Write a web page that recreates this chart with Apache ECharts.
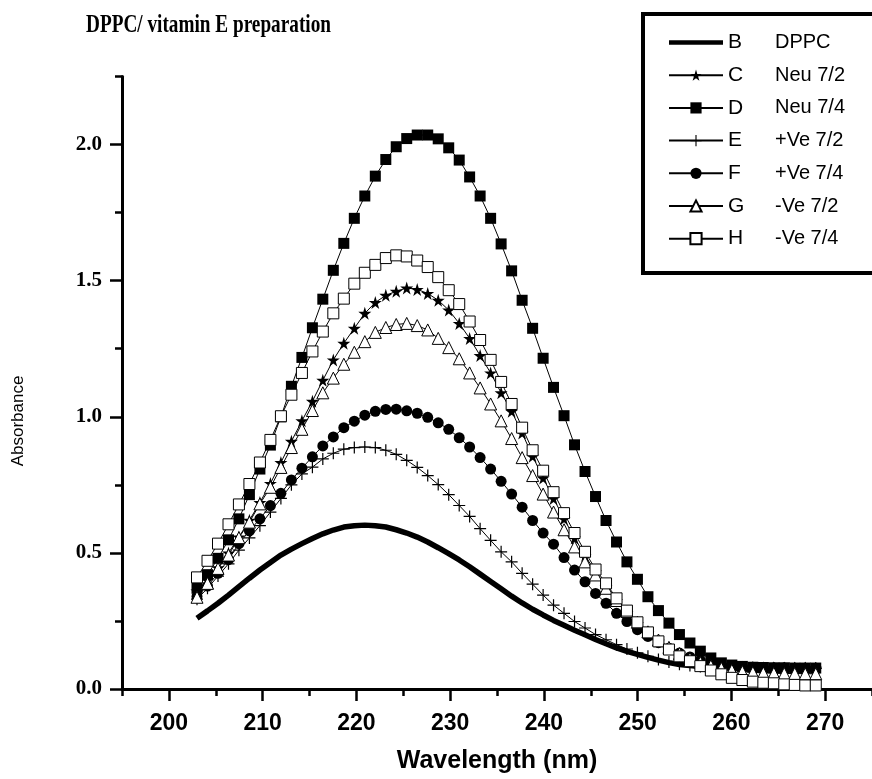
<!DOCTYPE html>
<html lang="en">
<head>
<meta charset="UTF-8">
<title>DPPC/ vitamin E preparation</title>
<script src="https://cdn.jsdelivr.net/npm/echarts@6.0.0/dist/echarts.min.js"></script>
<style>html,body{margin:0;padding:0;background:#fff;}</style>
</head>
<body>
<div id="chart" style="width:872px;height:779px;"></div>
<script>
// wavelength (nm) of each sample point
var wavelength = [203.00, 204.12, 205.24, 206.36, 207.47, 208.59, 209.71, 210.83, 211.95, 213.07,
    214.19, 215.31, 216.42, 217.54, 218.66, 219.78, 220.90, 222.02, 223.14, 224.25,
    225.37, 226.49, 227.61, 228.73, 229.85, 230.97, 232.08, 233.20, 234.32, 235.44,
    236.56, 237.68, 238.80, 239.92, 241.03, 242.15, 243.27, 244.39, 245.51, 246.63,
    247.75, 248.86, 249.98, 251.10, 252.22, 253.34, 254.46, 255.58, 256.69, 257.81,
    258.93, 260.05, 261.17, 262.29, 263.41, 264.53, 265.64, 266.76, 267.88, 269.00];

var absB = [0.260, 0.287, 0.315, 0.345, 0.376, 0.407, 0.437, 0.465, 0.492, 0.514,
    0.534, 0.553, 0.570, 0.584, 0.595, 0.600, 0.602, 0.600, 0.595, 0.585,
    0.573, 0.558, 0.540, 0.519, 0.497, 0.474, 0.449, 0.422, 0.395, 0.368,
    0.341, 0.316, 0.293, 0.272, 0.252, 0.234, 0.216, 0.199, 0.182, 0.166,
    0.151, 0.138, 0.127, 0.116, 0.106, 0.097, 0.090, 0.086, 0.083, 0.080,
    0.078, 0.077, 0.076, 0.075, 0.074, 0.074, 0.073, 0.073, 0.072, 0.072];

var absC = [0.360, 0.400, 0.445, 0.500, 0.558, 0.620, 0.685, 0.755, 0.832, 0.910,
    0.985, 1.057, 1.134, 1.209, 1.270, 1.325, 1.380, 1.420, 1.446, 1.461,
    1.473, 1.468, 1.453, 1.428, 1.392, 1.343, 1.288, 1.225, 1.161, 1.088,
    1.020, 0.940, 0.855, 0.775, 0.700, 0.625, 0.555, 0.490, 0.430, 0.375,
    0.325, 0.280, 0.240, 0.205, 0.175, 0.150, 0.130, 0.115, 0.102, 0.093,
    0.087, 0.083, 0.080, 0.079, 0.078, 0.078, 0.077, 0.077, 0.077, 0.076];

var absD = [0.370, 0.420, 0.480, 0.548, 0.625, 0.714, 0.808, 0.896, 1.000, 1.112,
    1.218, 1.327, 1.432, 1.538, 1.637, 1.729, 1.811, 1.884, 1.945, 1.992,
    2.022, 2.035, 2.035, 2.021, 1.988, 1.943, 1.881, 1.811, 1.729, 1.635,
    1.536, 1.428, 1.325, 1.215, 1.108, 1.004, 0.897, 0.799, 0.707, 0.619,
    0.540, 0.467, 0.403, 0.339, 0.288, 0.242, 0.200, 0.169, 0.139, 0.114,
    0.096, 0.088, 0.083, 0.080, 0.079, 0.078, 0.078, 0.077, 0.077, 0.077];

var absE = [0.330, 0.370, 0.415, 0.460, 0.510, 0.555, 0.600, 0.650, 0.700, 0.750,
    0.790, 0.815, 0.845, 0.866, 0.881, 0.887, 0.889, 0.887, 0.877, 0.862,
    0.840, 0.814, 0.784, 0.751, 0.714, 0.674, 0.634, 0.589, 0.546, 0.504,
    0.467, 0.425, 0.385, 0.345, 0.308, 0.278, 0.248, 0.224, 0.200, 0.181,
    0.163, 0.147, 0.133, 0.120, 0.108, 0.099, 0.091, 0.086, 0.083, 0.081,
    0.080, 0.079, 0.078, 0.078, 0.077, 0.077, 0.077, 0.076, 0.076, 0.076];

var absF = [0.340, 0.378, 0.425, 0.475, 0.534, 0.581, 0.625, 0.674, 0.719, 0.768,
    0.811, 0.853, 0.893, 0.926, 0.960, 0.984, 1.006, 1.020, 1.027, 1.028,
    1.022, 1.013, 0.998, 0.978, 0.954, 0.923, 0.889, 0.850, 0.808, 0.763,
    0.716, 0.668, 0.619, 0.573, 0.532, 0.483, 0.437, 0.394, 0.351, 0.315,
    0.278, 0.248, 0.218, 0.193, 0.170, 0.150, 0.132, 0.118, 0.105, 0.095,
    0.088, 0.084, 0.081, 0.079, 0.078, 0.077, 0.077, 0.076, 0.076, 0.076];

var absG = [0.337, 0.388, 0.443, 0.492, 0.556, 0.613, 0.680, 0.741, 0.814, 0.887,
    0.954, 1.023, 1.088, 1.142, 1.193, 1.237, 1.276, 1.310, 1.328, 1.339,
    1.343, 1.335, 1.319, 1.288, 1.254, 1.213, 1.161, 1.106, 1.047, 0.985,
    0.920, 0.850, 0.784, 0.716, 0.650, 0.585, 0.522, 0.467, 0.419, 0.370,
    0.325, 0.285, 0.245, 0.210, 0.180, 0.153, 0.130, 0.112, 0.097, 0.085,
    0.076, 0.069, 0.064, 0.061, 0.059, 0.058, 0.057, 0.057, 0.056, 0.056];

var absH = [0.410, 0.471, 0.534, 0.605, 0.678, 0.753, 0.832, 0.915, 1.002, 1.081,
    1.161, 1.240, 1.313, 1.380, 1.434, 1.489, 1.529, 1.558, 1.583, 1.593,
    1.589, 1.574, 1.550, 1.513, 1.465, 1.414, 1.350, 1.282, 1.209, 1.128,
    1.047, 0.960, 0.877, 0.802, 0.723, 0.646, 0.573, 0.504, 0.439, 0.388,
    0.333, 0.288, 0.245, 0.208, 0.175, 0.145, 0.120, 0.102, 0.084, 0.068,
    0.054, 0.041, 0.033, 0.027, 0.023, 0.021, 0.017, 0.015, 0.013, 0.013];

var seriesNames = ['B', 'C', 'D', 'E', 'F', 'G', 'H'];
var seriesLabels = ['DPPC', 'Neu 7/2', 'Neu 7/4', '+Ve 7/2', '+Ve 7/4', '-Ve 7/2', '-Ve 7/4'];

var xMajorTicks = [200, 210, 220, 230, 240, 250, 260, 270];
var xMinorTicks = [195, 205, 215, 225, 235, 245, 255, 265, 275];
var yMajorTicks = [0, 0.5, 1.0, 1.5, 2.0];
var yMinorTicks = [0.25, 0.75, 1.25, 1.75, 2.25];

var starPath = 'path://M50,0 L61,35 L98,35 L68,57 L79,91 L50,70 L21,91 L32,57 L2,35 L39,35 Z';
var plusPath = 'path://M45,0 L55,0 L55,45 L100,45 L100,55 L55,55 L55,100 L45,100 L45,55 L0,55 L0,45 L45,45 Z';

function pares(valores) {
    return wavelength.map(function (w, i) { return [w, valores[i]]; });
}

function serie(nome, valores, simbolo, tamanho, aberto) {
    return {
        name: nome,
        type: 'line',
        data: pares(valores),
        symbol: simbolo,
        symbolSize: tamanho,
        showSymbol: true,
        lineStyle: { color: '#000', width: 1 },
        itemStyle: aberto
            ? { color: '#fff', borderColor: '#000', borderWidth: 1 }
            : { color: '#000' },
        emphasis: { disabled: true }
    };
}

var series = [
    {
        name: 'B',
        type: 'line',
        data: pares(absB),
        symbol: 'none',
        lineStyle: { color: '#000', width: 5.5 },
        itemStyle: { color: '#000' },
        emphasis: { disabled: true }
    },
    serie('C', absC, starPath, 13, false),
    serie('D', absD, 'rect', 11, false),
    serie('E', absE, plusPath, 12, false),
    serie('F', absF, 'circle', 11, false),
    serie('G', absG, 'triangle', 12, true),
    serie('H', absH, 'rect', 11, true)
];

var fonteSans = '"Liberation Sans", Arial, sans-serif';
var fonteSerif = '"Liberation Serif", "Times New Roman", serif';

var chart = echarts.init(document.getElementById('chart'));

chart.setOption({
    animation: false,
    backgroundColor: '#fff',
    graphic: [{
        // titulo estreito, como no original
        type: 'text',
        x: 86,
        y: 12,
        scaleX: 0.74,
        style: {
            text: 'DPPC/ vitamin E preparation',
            font: 'bold 26px ' + fonteSerif,
            fill: '#000',
            verticalAlign: 'top'
        }
    }, {
        type: 'text',
        x: 18,
        y: 421,
        rotation: Math.PI / 2,
        style: {
            text: 'Absorbance',
            font: '17px ' + fonteSans,
            fill: '#000',
            align: 'center',
            verticalAlign: 'middle'
        }
    }, {
        type: 'rect',
        shape: { x: 643, y: 14, width: 270, height: 259 },
        style: { fill: 'none', stroke: '#000', lineWidth: 4 },
        z: 100
    }],
    legend: {
        orient: 'vertical',
        left: 668,
        top: 32,
        padding: 0,
        itemWidth: 54,
        itemHeight: 14,
        itemGap: 11.7,
        selectedMode: false,
        data: [{ name: 'B', icon: 'path://M0,0 L54,0 L54,4.5 L0,4.5 Z' }, 'C', 'D', 'E', 'F', 'G', 'H'],
        formatter: function (name) {
            return '{n|' + name + '}{d|' + seriesLabels[seriesNames.indexOf(name)] + '}';
        },
        textStyle: {
            color: '#000',
            lineHeight: 20,
            rich: {
                n: { width: 47, fontSize: 21, fontFamily: fonteSans, color: '#000', lineHeight: 20 },
                d: { fontSize: 20, fontFamily: fonteSans, color: '#000', lineHeight: 20 }
            }
        }
    },
    grid: { left: 122, right: -8.5, top: 76.5, bottom: 86 },
    xAxis: [{
        type: 'value',
        min: 195,
        max: 275,
        position: 'bottom',
        name: 'Wavelength (nm)',
        nameLocation: 'middle',
        nameGap: 60,
        nameTextStyle: { fontFamily: fonteSans, fontWeight: 'bold', fontSize: 25, color: '#000' },
        axisLine: { show: true, lineStyle: { color: '#000', width: 3 } },
        axisTick: { show: true, customValues: xMajorTicks, length: 12, lineStyle: { color: '#000', width: 2.5 } },
        axisLabel: {
            customValues: xMajorTicks,
            margin: 23,
            color: '#000',
            fontSize: 23,
            fontWeight: 'bold',
            fontFamily: fonteSans
        },
        splitLine: { show: false }
    }, {
        type: 'value',
        min: 195,
        max: 275,
        position: 'bottom',
        axisLine: { show: false },
        axisTick: { show: true, customValues: xMinorTicks, length: 7, lineStyle: { color: '#000', width: 2.5 } },
        axisLabel: { show: false },
        splitLine: { show: false }
    }],
    yAxis: [{
        type: 'value',
        min: 0,
        max: 2.25,
        position: 'left',
        axisLine: { show: true, lineStyle: { color: '#000', width: 3 } },
        axisTick: { show: true, customValues: yMajorTicks, length: 12, lineStyle: { color: '#000', width: 2.5 } },
        axisLabel: {
            customValues: yMajorTicks,
            margin: 20,
            color: '#000',
            fontSize: 21,
            fontWeight: 'bold',
            fontFamily: fonteSerif,
            formatter: function (v) { return v.toFixed(1); }
        },
        splitLine: { show: false }
    }, {
        type: 'value',
        min: 0,
        max: 2.25,
        position: 'left',
        axisLine: { show: false },
        axisTick: { show: true, customValues: yMinorTicks, length: 7, lineStyle: { color: '#000', width: 2.5 } },
        axisLabel: { show: false },
        splitLine: { show: false }
    }],
    series: series
});
</script>
</body>
</html>
